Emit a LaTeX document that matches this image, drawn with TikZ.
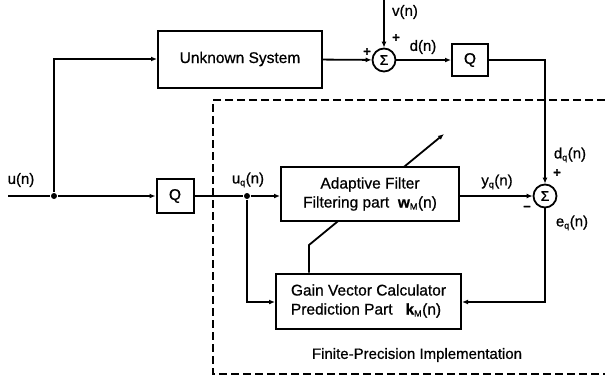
\documentclass[tikz,border=0pt]{standalone}
\usepackage{fontspec}
\setmainfont{Liberation Sans}[FakeBold=0.7]
\usetikzlibrary{arrows.meta}

\begin{document}
\begin{tikzpicture}[x=1pt,y=-1pt,
  line width=1.8pt,
  blk/.style={draw, line width=2pt, fill=white, inner sep=0pt,
    font=\fontsize{15.5}{19}\selectfont},
  sumnode/.style={draw, circle, line width=1.8pt, fill=white,
    minimum size=23pt, inner sep=0pt, font=\fontsize{14}{14}\selectfont},
  lbl/.style={font=\fontsize{15}{17}\selectfont, inner sep=1pt},
  sig/.style={font=\fontsize{13}{13}\selectfont\bfseries, inner sep=0pt},
  arr/.style={-{Latex[length=6pt,width=5pt]}},
  jdot/.style={circle, fill, inner sep=0pt, minimum size=6pt},
  frame/.style={line width=1.5pt, dash pattern=on 8pt off 4pt}
]
\useasboundingbox (0,0) rectangle (605,383);
\newcommand{\qs}[1]{\textsubscript{\fontsize{9}{9}\selectfont #1}}

% finite-precision frame (open to the right)
\coordinate (ftr) at (605,100);
\coordinate (ftl) at (213,100);
\coordinate (fbl) at (213,374);
\coordinate (fbr) at (605,374);
\draw[frame] (ftr) -- (ftl) -- (fbl) -- (fbr);

% blocks
\node[blk, minimum width=164pt, minimum height=57pt] (us) at (240,59) {Unknown System};
\node[blk, minimum width=36pt, minimum height=32pt] (q1) at (470,60) {Q};
\node[blk, minimum width=37pt, minimum height=34pt] (q2) at (175,196) {Q};
\node[blk, minimum width=185pt, minimum height=55pt, align=left] (gv) at (368.5,301)
  {Gain Vector Calculator\\Prediction Part \ \ \textbf{k}\qs{M}(n)};

% adjustment arrow through the adaptive filter
\coordinate (ak) at (309,245);
\coordinate (atip) at (444,134);
\draw[arr] (gv.north -| ak) -- (ak) -- (atip);

\node[blk, minimum width=178pt, minimum height=54pt, align=center] (af) at (370,194)
  {Adaptive Filter\\Filtering part \ \textbf{w}\qs{M}(n)};

% summing junctions
\node[sumnode] (s1) at (384,60) {Σ};
\node[sumnode] (s2) at (545,196) {Σ};

% branch points and free ends
\coordinate (uin) at (8,196);
\node[jdot] (j1) at (54,196) {};
\node[jdot] (j2) at (247,196) {};
\coordinate (vtop) at (384,0);

% connectors
\draw (uin) -- (j1);
\draw[arr] (j1) -- (q2);
\draw[arr] (j1) |- (us);
\draw[arr] (us) -- (s1);
\draw[arr] (vtop) -- (s1);
\draw[arr] (s1) -- (q1);
\draw[arr] (q1) -| (s2);
\draw (q2) -- (j2);
\draw[arr] (j2) -- (j2 -| af.west);
\draw[arr] (af.east |- s2) -- (s2);
\draw[arr] (s2) |- (gv.east |- 0,302);
\draw[arr] (j2) |- (gv.west |- 0,302);

% signal labels
\node[lbl] at (21,180) {u(n)};
\node[lbl] at (405,12) {v(n)};
\node[lbl] at (423,47) {d(n)};
\node[lbl] at (248,180) {u\qs{q}(n)};
\node[lbl] at (497,182) {y\qs{q}(n)};
\node[lbl] at (570,155) {d\qs{q}(n)};
\node[lbl] at (572,223) {e\qs{q}(n)};

% signs at the summing junctions
\node[sig] at (396,38) {+};
\node[sig] at (367,52) {+};
\node[sig] at (557,173) {+};
\node[sig] at (527,208) {–};

\node[lbl] at (417,355) {Finite-Precision Implementation};
\end{tikzpicture}
\end{document}
